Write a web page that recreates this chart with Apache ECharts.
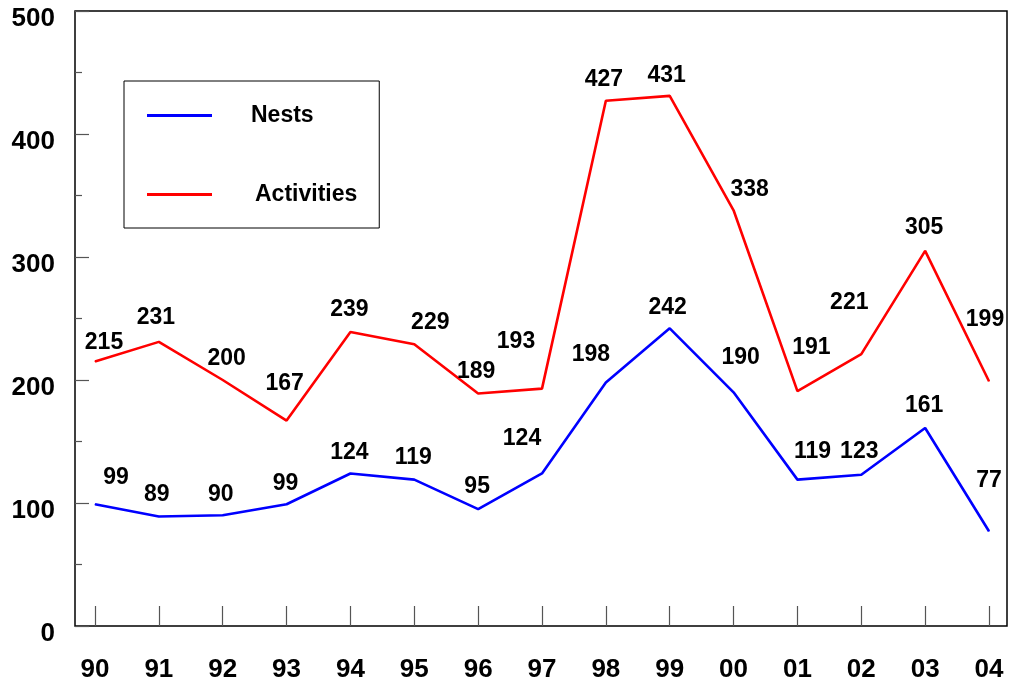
<!DOCTYPE html>
<html><head><meta charset="utf-8">
<script src="https://cdn.jsdelivr.net/npm/echarts@6/dist/echarts.min.js"></script>
<style>html,body{margin:0;padding:0;background:#fff}#c{width:1010px;height:684px}</style>
</head><body><div id="c"></div>
<script>
const years = ['90','91','92','93','94','95','96','97','98','99','00','01','02','03','04'];
const nests = [99, 89, 90, 99, 124, 119, 95, 124, 198, 242, 190, 119, 123, 161, 77];
const activities = [215, 231, 200, 167, 239, 229, 189, 193, 427, 431, 338, 191, 221, 305, 199];

// label placement (style only): offset of each value label from its point
const nestsLabelOffsets = [[21,-27],[-2,-22],[-2,-21],[-1,-21],[-1,-21],[-1,-22],[-1,-22],[-20,-35],[-15,-28],[-2,-21],[7,-35],[15,-28],[-2,-23],[-1,-22],[0,-51]];
const actLabelOffsets = [[9,-19],[-3,-24],[4,-21],[-2,-37],[-1,-22],[16,-22],[-2,-22],[-26,-47],[-2,-21],[-3,-20],[16,-21],[14,-43],[-12,-52],[-1,-23],[-4,-62]];

const FONT = 'Liberation Sans';
function withLabels(vals, offs) {
  return vals.map((v, i) => ({ value: v, label: { offset: offs[i] } }));
}
const labelStyle = {
  show: true, position: 'inside', color: '#000', fontFamily: FONT,
  fontWeight: 'bold', fontSize: 23
};

const chart = echarts.init(document.getElementById('c'));
chart.setOption({
  animation: false,
  backgroundColor: '#fff',
  grid: [
    { left: 95, right: 21, top: 11, bottom: 58 },
    { left: 75, right: 3, top: 11, bottom: 58, show: true, borderColor: '#000', borderWidth: 1.5, backgroundColor: 'transparent', z: 0 }
  ],
  xAxis: [
    {
      gridIndex: 0, type: 'category', data: years, boundaryGap: false,
      axisLine: { show: false },
      axisTick: { show: true, inside: true, length: 20, alignWithLabel: true, lineStyle: { color: '#555', width: 1.2 } },
      axisLabel: { color: '#000', fontFamily: FONT, fontWeight: 'bold', fontSize: 26, margin: 31 },
      splitLine: { show: false }
    },
    { gridIndex: 1, type: 'value', show: false }
  ],
  yAxis: [
    { gridIndex: 0, type: 'value', min: 0, max: 500, interval: 100, show: false },
    {
      gridIndex: 1, type: 'value', min: 0, max: 500, interval: 100,
      axisLine: { show: false },
      axisTick: { show: true, inside: true, length: 14, lineStyle: { color: '#555', width: 1.2 } },
      minorTick: { show: true, splitNumber: 2, length: 7, lineStyle: { color: '#555', width: 1.2 } },
      axisLabel: { color: '#000', fontFamily: FONT, fontWeight: 'bold', fontSize: 26, margin: 20, verticalAlign: 'top', lineHeight: 16 },
      splitLine: { show: false }
    }
  ],
  legend: {
    orient: 'vertical', left: 124, top: 81,
    padding: [23, 22, 22, 23],
    itemGap: 56, itemWidth: 65, itemHeight: 3, icon: 'rect',
    borderColor: '#000', borderWidth: 1, backgroundColor: '#fff',
    textStyle: { color: '#000', fontFamily: FONT, fontWeight: 'bold', fontSize: 23, padding: [0, 0, 0, 34] },
    data: [
      { name: 'Nests' },
      { name: 'Activities', textStyle: { padding: [0, 0, 0, 38] } }
    ]
  },
  series: [
    {
      name: 'Nests', type: 'line', xAxisIndex: 0, yAxisIndex: 0,
      data: withLabels(nests, nestsLabelOffsets),
      symbol: 'circle', symbolSize: 1, showSymbol: true,
      itemStyle: { color: '#0000FF' },
      lineStyle: { color: '#0000FF', width: 2.6 },
      label: labelStyle
    },
    {
      name: 'Activities', type: 'line', xAxisIndex: 0, yAxisIndex: 0,
      data: withLabels(activities, actLabelOffsets),
      symbol: 'circle', symbolSize: 1, showSymbol: true,
      itemStyle: { color: '#FF0000' },
      lineStyle: { color: '#FF0000', width: 2.6 },
      label: labelStyle
    }
  ]
});
</script>
</body></html>
